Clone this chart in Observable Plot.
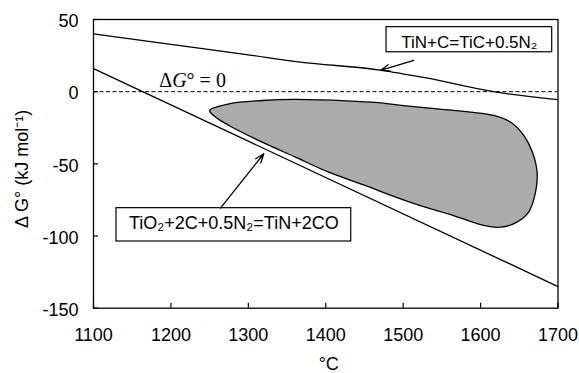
<!DOCTYPE html>
<html><head><meta charset="utf-8">
<script src="https://cdn.jsdelivr.net/npm/d3@7"></script>
<script src="https://cdn.jsdelivr.net/npm/@observablehq/plot@0.6"></script>
<style>html,body{margin:0;padding:0;background:#fff} svg{display:block}</style>
</head><body><div id="chart"></div>
<script>
// axes
const xTicks = [1100, 1200, 1300, 1400, 1500, 1600, 1700];
const yTicks = [-150, -100, -50, 0, 50];
// TiO2+2C+0.5N2=TiN+2CO
const nitrideT = [1100, 1700];
const nitrideG = [16, -135];
// TiN+C=TiC+0.5N2
const carbideT = [1100, 1200, 1300, 1367, 1470, 1530, 1617, 1700];
const carbideG = [40, 32.7, 25.5, 20.5, 15, 9.5, 0, -5.5];
// shaded region outline (closed)
const regionT = [1250, 1275, 1318, 1361, 1458, 1501, 1544, 1587, 1617, 1639, 1656, 1667, 1673, 1671, 1662, 1647, 1626, 1604, 1565, 1522, 1479, 1461, 1404, 1361, 1318, 1275, 1258];
const regionG = [-13, -8.4, -6.1, -5.4, -7.3, -9.6, -11.9, -14.2, -16.5, -21.2, -30.4, -41.9, -55.8, -69.6, -83.5, -90.4, -93.9, -92.7, -85.8, -78.9, -70.8, -67, -55.8, -45.4, -35, -23.4, -17.7];
// annotation labels
const carbideLabel = "TiN+C=TiC+0.5N₂";
const nitrideLabel = "TiO₂+2C+0.5N₂=TiN+2CO";
const labelT = [1585.5, 1281.3];
const labelG = [33.7, -91.0];
const boxT1 = [1478.5, 1129.7];
const boxT2 = [1692.5, 1432.9];
const boxG1 = [44.7, -80.7];
const boxG2 = [27.3, -103.8];
const arrowT1 = [1513.7, 1264];
const arrowG1 = [21.6, -80.7];
const arrowT2 = [1470.7, 1320];
const arrowG2 = [14.7, -43];
const zeroLabel = "ΔG° = 0";
const zeroLabelT = [1228];
const zeroLabelG = [3.1];
const xLabel = "°C";
const yLabel = "Δ G° (kJ mol⁻¹)";

const nitride = nitrideT.map((t, i) => ({t, g: nitrideG[i]}));
const carbide = carbideT.map((t, i) => ({t, g: carbideG[i]}));
const region = regionT.map((t, i) => ({t, g: regionG[i]}));
const boxes = boxT1.map((x1, i) => ({x1, x2: boxT2[i], y1: boxG1[i], y2: boxG2[i]}));
const arrows = arrowT1.map((t1, i) => ({t1, g1: arrowG1[i], t2: arrowT2[i], g2: arrowG2[i]}));

const sans = "'Liberation Sans', Arial, sans-serif";
const W = 579, H = 373, mL = 93, mR = 21.5, mT = 19, mB = 65.3;
const tickLen = 5;

const chart = Plot.plot({
  width: W,
  height: H,
  marginLeft: mL,
  marginRight: mR,
  marginTop: mT,
  marginBottom: mB,
  style: {fontFamily: sans, fontSize: "18px", background: "white", color: "black"},
  x: {domain: [xTicks[0], xTicks[xTicks.length - 1]], ticks: xTicks, tickFormat: d => String(d)},
  y: {domain: [yTicks[0], yTicks[yTicks.length - 1]], ticks: yTicks, tickFormat: d => String(d)},
  marks: [
    Plot.line(region, {x: "t", y: "g", curve: "catmull-rom-closed", fill: "url(#stipple)", stroke: "black", strokeWidth: 1.3}),
    Plot.ruleY([0], {stroke: "black", strokeWidth: 1, strokeDasharray: "4,2.5"}),
    Plot.line(nitride, {x: "t", y: "g", stroke: "black", strokeWidth: 1.3}),
    Plot.line(carbide, {x: "t", y: "g", stroke: "black", strokeWidth: 1.3, curve: "monotone-x"}),
    Plot.text([zeroLabel], {x: zeroLabelT, y: zeroLabelG, text: d => d, fontFamily: "'Liberation Serif', 'Times New Roman', serif", fontSize: 20, lineAnchor: "bottom", textAnchor: "middle"}),
    Plot.rect(boxes, {x1: "x1", x2: "x2", y1: "y1", y2: "y2", fill: "white", stroke: "black", strokeWidth: 1.2}),
    Plot.text([carbideLabel], {x: [labelT[0]], y: [labelG[0]], text: d => d, fontSize: 17, textAnchor: "middle", lineAnchor: "middle"}),
    Plot.text([nitrideLabel], {x: [labelT[1]], y: [labelG[1]], text: d => d, fontSize: 18, textAnchor: "middle", lineAnchor: "middle"}),
    Plot.arrow(arrows, {x1: "t1", y1: "g1", x2: "t2", y2: "g2", bend: 0, headLength: 11, headAngle: 40, strokeWidth: 1.3, stroke: "black", inset: 0}),
    // inward ticks
    Plot.tickX(xTicks, {x: d => d, insetTop: (H - mT - mB) - tickLen, stroke: "black", strokeWidth: 1.2}),
    Plot.tickY(yTicks, {y: d => d, insetRight: (W - mL - mR) - tickLen, stroke: "black", strokeWidth: 1.2}),
    Plot.frame({stroke: "black", strokeWidth: 1.3}),
    Plot.axisX(xTicks, {tickSize: 0, tickPadding: 20, fontSize: 18, label: null, tickFormat: d => String(d)}),
    Plot.axisY(yTicks, {tickSize: 0, tickPadding: 15, fontSize: 18, label: null, dy: 2, tickFormat: d => String(d)}),
    Plot.text([xLabel], {frameAnchor: "bottom", dy: 56, text: d => d, fontSize: 18, textAnchor: "middle", lineAnchor: "middle", dx: 3}),
    Plot.text([yLabel], {frameAnchor: "left", dx: -71, dy: 5, rotate: -90, text: d => d, fontSize: 18, textAnchor: "middle", lineAnchor: "middle"})
  ]
});

// stipple pattern for the shaded region
const ns = "http://www.w3.org/2000/svg";
const defs = document.createElementNS(ns, "defs");
const pat = document.createElementNS(ns, "pattern");
pat.setAttribute("id", "stipple");
pat.setAttribute("width", "2");
pat.setAttribute("height", "2");
pat.setAttribute("patternUnits", "userSpaceOnUse");
const bg = document.createElementNS(ns, "rect");
bg.setAttribute("width", "2"); bg.setAttribute("height", "2"); bg.setAttribute("fill", "#d0d0d0");
const dot = document.createElementNS(ns, "rect");
dot.setAttribute("width", "1"); dot.setAttribute("height", "1"); dot.setAttribute("fill", "#3c3c3c");
pat.appendChild(bg); pat.appendChild(dot);
defs.appendChild(pat);
chart.insertBefore(defs, chart.firstChild);

// italic G in the ΔG° = 0 label
chart.querySelectorAll("text").forEach(el => {
  if (el.textContent === zeroLabel) {
    el.textContent = "";
    const parts = [["Δ", "normal"], ["G", "italic"], ["° = 0", "normal"]];
    for (const [s, st] of parts) {
      const ts = document.createElementNS(ns, "tspan");
      ts.setAttribute("font-style", st);
      ts.textContent = s;
      el.appendChild(ts);
    }
  }
});

document.getElementById("chart").appendChild(chart);
</script>
</body></html>
